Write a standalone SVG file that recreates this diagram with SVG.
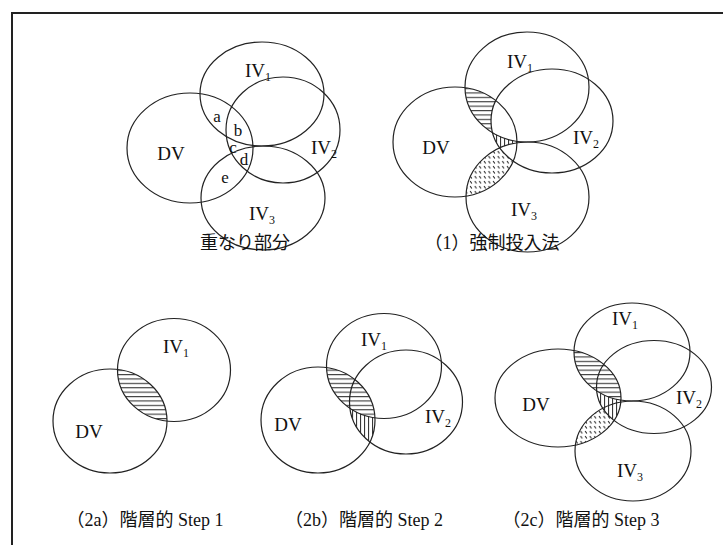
<svg xmlns="http://www.w3.org/2000/svg" width="723" height="545" viewBox="0 0 723 545">
  <style>
    .ring { fill: none; stroke: #222; stroke-width: 1.2; }
    .lbl { font-family: "Liberation Serif", "DejaVu Serif", serif; font-size: 19px; fill: #111; text-anchor: middle; }
    .sub { font-size: 12px; }
    .small { font-family: "Liberation Serif", "DejaVu Serif", serif; font-size: 17px; fill: #111; text-anchor: middle; }
    .cap { font-family: "Liberation Serif", "Noto Sans CJK JP", serif; font-size: 18px; fill: #111; text-anchor: middle; }
    .frame { fill: none; stroke: #222; stroke-width: 2; }
  </style>
  <defs>
    <!-- hatch fills -->
    <pattern id="hz" width="8" height="4.4" patternUnits="userSpaceOnUse">
      <line x1="0" y1="0.6" x2="8" y2="0.6" stroke="#222" stroke-width="1"/>
    </pattern>
    <pattern id="vt" width="4" height="8" patternUnits="userSpaceOnUse">
      <line x1="0.6" y1="0" x2="0.6" y2="8" stroke="#222" stroke-width="1"/>
    </pattern>
    <pattern id="dt" width="4.6" height="5" patternUnits="userSpaceOnUse">
      <line x1="1" y1="1" x2="2.6" y2="3.6" stroke="#222" stroke-width="1"/>
    </pattern>

    <!-- forced entry panel shapes -->
    <clipPath id="f-iv1"><ellipse cx="527" cy="87" rx="62" ry="55"/></clipPath>
    <clipPath id="f-iv2"><ellipse cx="552" cy="121" rx="61" ry="52"/></clipPath>
    <clipPath id="f-iv3"><ellipse cx="527.5" cy="197" rx="61.5" ry="55"/></clipPath>
    <mask id="f-m-a"><ellipse cx="455" cy="142" rx="62" ry="55" fill="#fff"/><ellipse cx="552" cy="121" rx="61" ry="52" fill="#000"/></mask>
    <mask id="f-m-c"><ellipse cx="455" cy="142" rx="62" ry="55" fill="#fff"/><ellipse cx="527" cy="87" rx="62" ry="55" fill="#000"/><ellipse cx="527.5" cy="197" rx="61.5" ry="55" fill="#000"/></mask>
    <mask id="f-m-e"><ellipse cx="455" cy="142" rx="62" ry="55" fill="#fff"/><ellipse cx="552" cy="121" rx="61" ry="52" fill="#000"/><ellipse cx="527" cy="87" rx="62" ry="55" fill="#000"/></mask>

    <!-- step 1 -->
    <clipPath id="s1-dv"><ellipse cx="110" cy="421" rx="57" ry="52"/></clipPath>

    <!-- step 2 -->
    <clipPath id="s2-dv"><ellipse cx="318" cy="420" rx="57" ry="53"/></clipPath>
    <mask id="s2-m-c"><ellipse cx="318" cy="420" rx="57" ry="53" fill="#fff"/><ellipse cx="384" cy="366" rx="57.5" ry="52.5" fill="#000"/></mask>

    <!-- step 3 -->
    <clipPath id="s3-dv"><ellipse cx="558" cy="398" rx="63" ry="49"/></clipPath>
    <mask id="s3-m-c"><ellipse cx="558" cy="398" rx="63" ry="49" fill="#fff"/><ellipse cx="632" cy="352" rx="58" ry="49" fill="#000"/></mask>
    <mask id="s3-m-e"><ellipse cx="558" cy="398" rx="63" ry="49" fill="#fff"/><ellipse cx="632" cy="352" rx="58" ry="49" fill="#000"/><ellipse cx="654" cy="387" rx="57.5" ry="46.5" fill="#000"/></mask>
  </defs>

  <rect width="723" height="545" fill="#fff"/>
  <path class="frame" d="M12,545 V13 H723"/>

  <!-- overlap parts -->
  <g id="overlap">
    <g id="ov-dv"><ellipse class="ring" cx="190" cy="148" rx="63" ry="55"/><text class="lbl" x="171" y="160">DV</text></g>
    <g id="ov-iv1"><ellipse class="ring" cx="262" cy="94" rx="62" ry="52"/><text class="lbl" x="258" y="77">IV<tspan class="sub" dy="4">1</tspan></text></g>
    <g id="ov-iv2"><ellipse class="ring" cx="283" cy="130" rx="57" ry="53"/><text class="lbl" x="324" y="154">IV<tspan class="sub" dy="4">2</tspan></text></g>
    <g id="ov-iv3"><ellipse class="ring" cx="263" cy="198" rx="62" ry="52"/><text class="lbl" x="262" y="220">IV<tspan class="sub" dy="4">3</tspan></text></g>
    <g id="ov-letters">
      <text class="small" x="217" y="122">a</text>
      <text class="small" x="238" y="136">b</text>
      <text class="small" x="233" y="153">c</text>
      <text class="small" x="244" y="165">d</text>
      <text class="small" x="225" y="183">e</text>
    </g>
    <text class="cap" x="245" y="249">重なり部分</text>
  </g>

  <!-- (1) forced entry -->
  <g id="forced">
    <g id="f-fill">
      <g clip-path="url(#f-iv1)"><rect x="390" y="80" width="130" height="120" fill="url(#hz)" mask="url(#f-m-a)"/></g>
      <g clip-path="url(#f-iv2)"><rect x="390" y="80" width="130" height="120" fill="url(#vt)" mask="url(#f-m-c)"/></g>
      <g clip-path="url(#f-iv3)"><rect x="390" y="80" width="130" height="120" fill="url(#dt)" mask="url(#f-m-e)"/></g>
    </g>
    <g id="f-dv"><ellipse class="ring" cx="455" cy="142" rx="62" ry="55"/><text class="lbl" x="436" y="154">DV</text></g>
    <g id="f-iv1"><ellipse class="ring" cx="527" cy="87" rx="62" ry="55"/><text class="lbl" x="520" y="68">IV<tspan class="sub" dy="4">1</tspan></text></g>
    <g id="f-iv2"><ellipse class="ring" cx="552" cy="121" rx="61" ry="52"/><text class="lbl" x="586" y="144">IV<tspan class="sub" dy="4">2</tspan></text></g>
    <g id="f-iv3"><ellipse class="ring" cx="527.5" cy="197" rx="61.5" ry="55"/><text class="lbl" x="524" y="216">IV<tspan class="sub" dy="4">3</tspan></text></g>
    <text class="cap" x="492" y="249">（1）強制投入法</text>
  </g>

  <!-- (2a) hierarchical step 1 -->
  <g id="step1">
    <g clip-path="url(#s1-dv)"><ellipse cx="174" cy="370" rx="56.5" ry="51.5" fill="url(#hz)"/></g>
    <g id="s1-iv1"><ellipse class="ring" cx="174" cy="370" rx="56.5" ry="51.5"/><text class="lbl" x="176" y="353">IV<tspan class="sub" dy="4">1</tspan></text></g>
    <g id="s1-dv"><ellipse class="ring" cx="110" cy="421" rx="57" ry="52"/><text class="lbl" x="89" y="438">DV</text></g>
    <text class="cap" x="145" y="526">（2a）階層的 Step 1</text>
  </g>

  <!-- (2b) hierarchical step 2 -->
  <g id="step2">
    <g clip-path="url(#s2-dv)"><ellipse cx="384" cy="366" rx="57.5" ry="52.5" fill="url(#hz)"/></g>
    <g mask="url(#s2-m-c)"><ellipse cx="406" cy="402" rx="56.5" ry="52" fill="url(#vt)"/></g>
    <g id="s2-iv1"><ellipse class="ring" cx="384" cy="366" rx="57.5" ry="52.5"/><text class="lbl" x="374" y="346">IV<tspan class="sub" dy="4">1</tspan></text></g>
    <g id="s2-iv2"><ellipse class="ring" cx="406" cy="402" rx="56.5" ry="52"/><text class="lbl" x="438" y="423">IV<tspan class="sub" dy="4">2</tspan></text></g>
    <g id="s2-dv"><ellipse class="ring" cx="318" cy="420" rx="57" ry="53"/><text class="lbl" x="288" y="431">DV</text></g>
    <text class="cap" x="364" y="526">（2b）階層的 Step 2</text>
  </g>

  <!-- (2c) hierarchical step 3 -->
  <g id="step3">
    <g clip-path="url(#s3-dv)"><ellipse cx="632" cy="352" rx="58" ry="49" fill="url(#hz)"/></g>
    <g mask="url(#s3-m-c)"><ellipse cx="654" cy="387" rx="57.5" ry="46.5" fill="url(#vt)"/></g>
    <g mask="url(#s3-m-e)"><ellipse cx="633" cy="451" rx="58" ry="50" fill="url(#dt)"/></g>
    <g id="s3-dv"><ellipse class="ring" cx="558" cy="398" rx="63" ry="49"/><text class="lbl" x="536" y="411">DV</text></g>
    <g id="s3-iv1"><ellipse class="ring" cx="632" cy="352" rx="58" ry="49"/><text class="lbl" x="625" y="325">IV<tspan class="sub" dy="4">1</tspan></text></g>
    <g id="s3-iv2"><ellipse class="ring" cx="654" cy="387" rx="57.5" ry="46.5"/><text class="lbl" x="689" y="404">IV<tspan class="sub" dy="4">2</tspan></text></g>
    <g id="s3-iv3"><ellipse class="ring" cx="633" cy="451" rx="58" ry="50"/><text class="lbl" x="630" y="477">IV<tspan class="sub" dy="4">3</tspan></text></g>
    <text class="cap" x="581" y="526">（2c）階層的 Step 3</text>
  </g>
</svg>
